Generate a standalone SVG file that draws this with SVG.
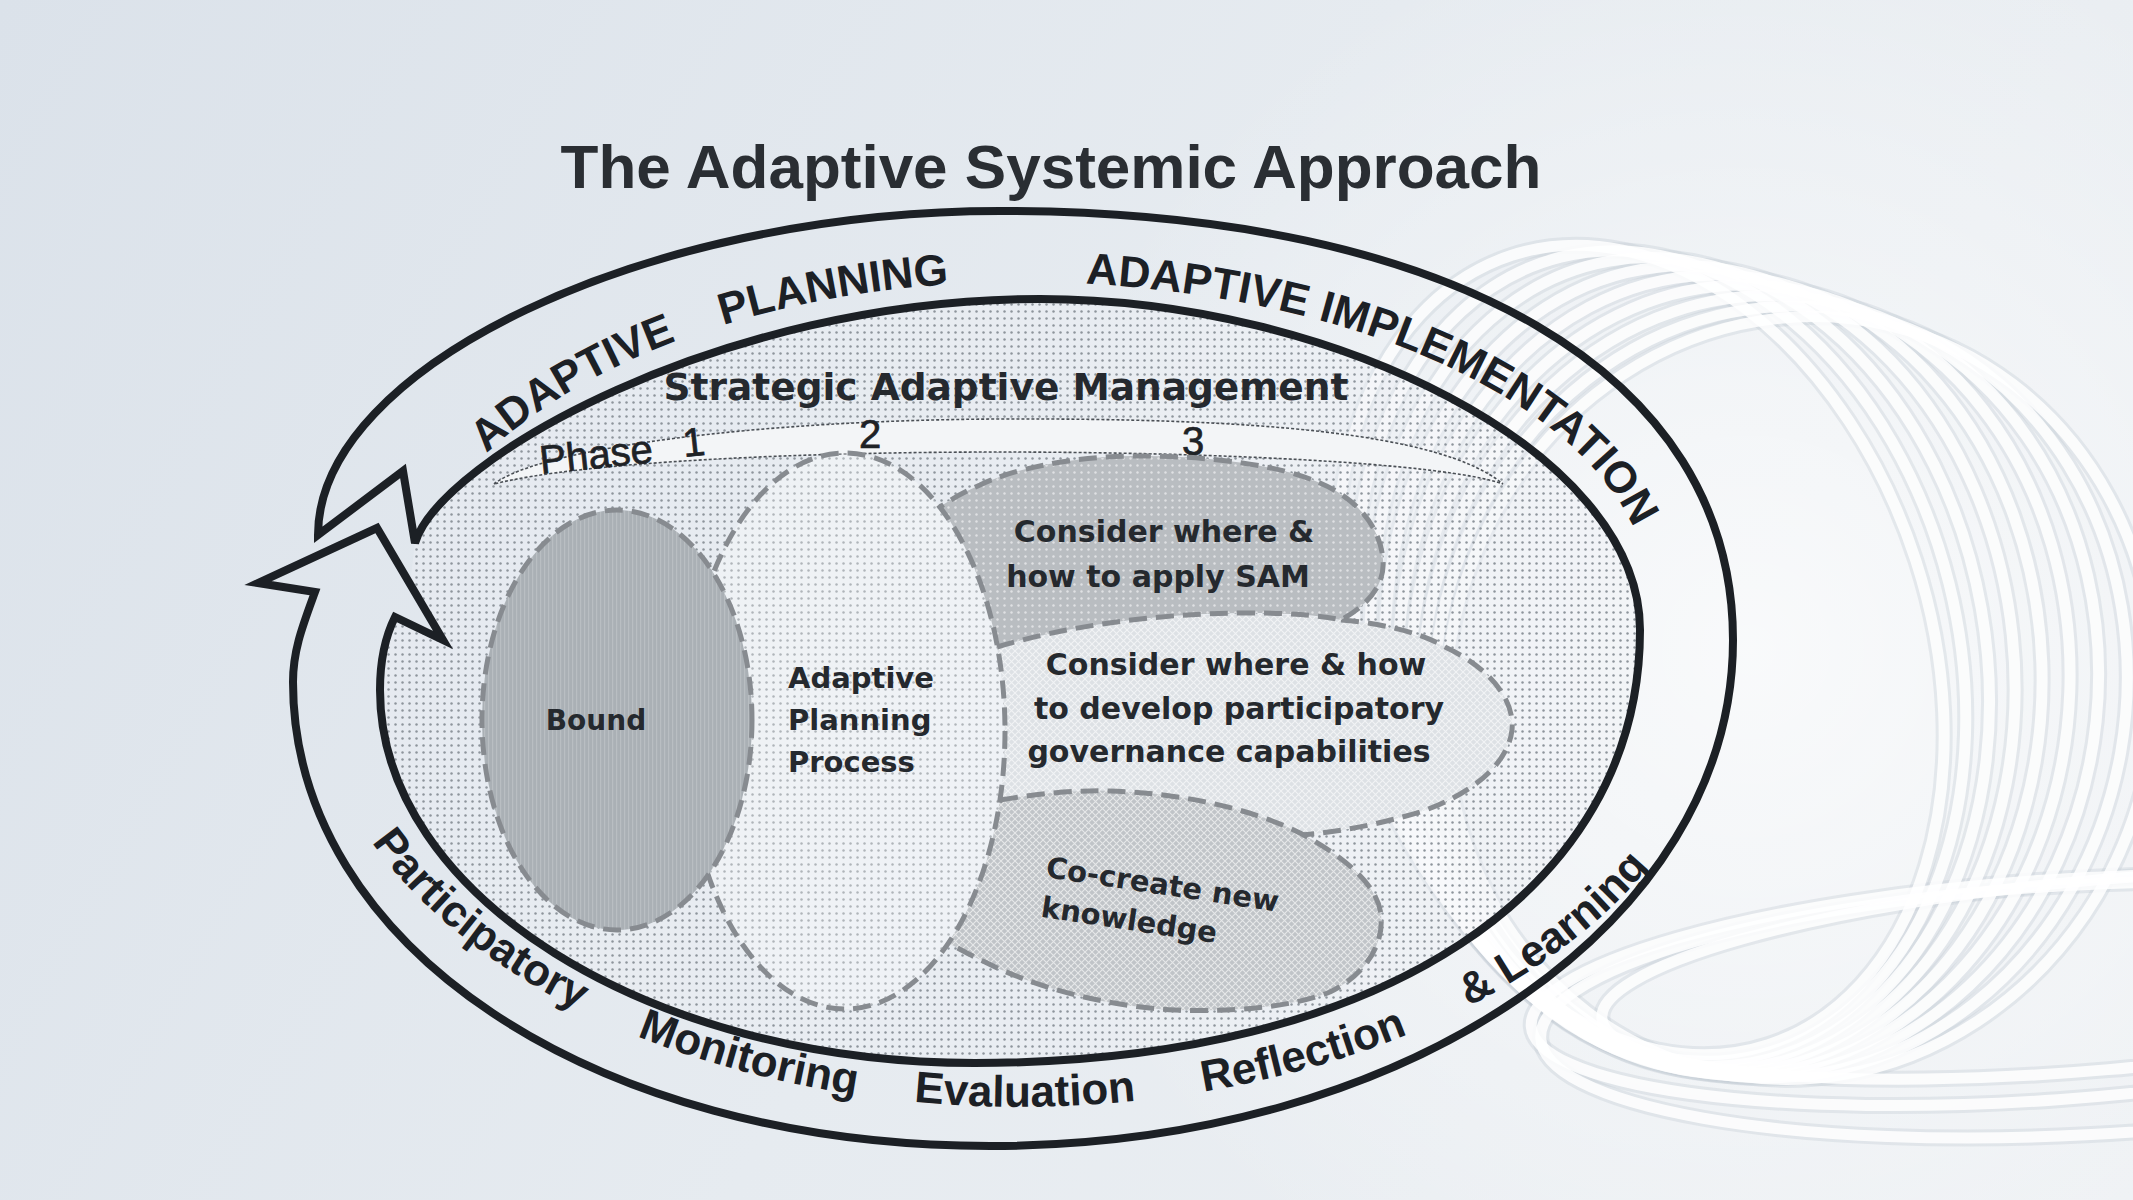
<svg xmlns="http://www.w3.org/2000/svg" width="2133" height="1200" viewBox="0 0 2133 1200">
<defs>
  <linearGradient id="bg" x1="0" y1="0" x2="2133" y2="1200" gradientUnits="userSpaceOnUse">
    <stop offset="0" stop-color="#dbe2ea"/>
    <stop offset="0.5" stop-color="#e6ebf0"/>
    <stop offset="1" stop-color="#eef1f4"/>
  </linearGradient>
  <radialGradient id="glow" cx="1750" cy="650" r="750" gradientUnits="userSpaceOnUse">
    <stop offset="0" stop-color="#ffffff" stop-opacity="0.7"/>
    <stop offset="1" stop-color="#ffffff" stop-opacity="0"/>
  </radialGradient>
  <pattern id="dots" width="7" height="7" patternUnits="userSpaceOnUse"><circle cx="3.5" cy="3.5" r="1.25" fill="#8e959c"/></pattern>
  <pattern id="wdots" width="7" height="7" patternUnits="userSpaceOnUse"><circle cx="3.5" cy="3.5" r="1.2" fill="#ffffff" fill-opacity="0.55"/></pattern>
  <pattern id="hatch" width="7" height="7" patternUnits="userSpaceOnUse"><path d="M0,0 L7,7 M7,0 L0,7" stroke="#ffffff" stroke-width="1.1" stroke-opacity="0.6"/></pattern>
  <pattern id="vlines" width="4" height="4" patternUnits="userSpaceOnUse"><rect width="1.2" height="4" fill="#ffffff" fill-opacity="0.18"/></pattern>
  <path id="topArc" d="M 395,640 A 625,358 0 0 1 1020,282 A 630,318 0 0 1 1650,600"/>
  <path id="botArc" d="M 310,660 A 710,447 0 0 0 1730,660"/>
  <path id="innerShape" d="M 415,543 C 440,460 720,299 1040,299 C 1330,299 1640,450 1640,630 C 1640,890 1383,1063 975,1063 C 648,1063 380,895 380,690 C 380,660 386,635 395,617 L 443,640 L 410,584 Z"/>
  <g id="ringset">
    <ellipse cx="1640" cy="650" rx="290" ry="415" transform="rotate(-18 1640 650)"/>
    <ellipse cx="1660" cy="656" rx="298" ry="411" transform="rotate(-14 1660 656)"/>
    <ellipse cx="1680" cy="662" rx="306" ry="407" transform="rotate(-10 1680 662)"/>
    <ellipse cx="1700" cy="668" rx="314" ry="403" transform="rotate(-6 1700 668)"/>
    <ellipse cx="1720" cy="674" rx="322" ry="399" transform="rotate(-2 1720 674)"/>
    <ellipse cx="1740" cy="680" rx="330" ry="395" transform="rotate(2 1740 680)"/>
    <ellipse cx="1760" cy="686" rx="338" ry="391" transform="rotate(6 1760 686)"/>
    <ellipse cx="1780" cy="692" rx="346" ry="387" transform="rotate(10 1780 692)"/>
    <ellipse cx="1800" cy="698" rx="354" ry="383" transform="rotate(14 1800 698)"/>
    <ellipse cx="2050" cy="990" rx="520" ry="110" transform="rotate(-4 2050 990)"/>
    <ellipse cx="2080" cy="1010" rx="540" ry="125" transform="rotate(-3 2080 1010)"/>
    <ellipse cx="2100" cy="975" rx="500" ry="95" transform="rotate(-5 2100 975)"/>
  </g>
</defs>
<style>
  .dash { fill:none; stroke:#878b90; stroke-width:5; stroke-dasharray:18 9; }
  .band { fill:none; stroke:#1c2025; stroke-width:8; stroke-linejoin:miter; stroke-miterlimit:4; }
  .bt { font-family:"Liberation Sans", Arial, sans-serif; font-weight:bold; font-size:44px; fill:#1c2025; }
  .ct { font-family:"Comic Sans MS", "DejaVu Sans", sans-serif; font-weight:bold; fill:#25292e; }
  .ph { font-family:"Liberation Sans", Arial, sans-serif; font-size:40px; fill:#1e2226; stroke:#1e2226; stroke-width:0.7; }
  .ringShadow { fill:none; stroke:#c3ccd5; stroke-width:17; stroke-opacity:0.35; }
  .ringWhite { fill:none; stroke:#ffffff; stroke-width:11; stroke-opacity:0.85; }
</style>

<rect width="2133" height="1200" fill="url(#bg)"/>
<rect width="2133" height="1200" fill="url(#glow)"/>
<g id="rings">
  <use href="#ringset" class="ringShadow"/>
  <use href="#ringset" class="ringWhite"/>
</g>

<g id="title">
  <text x="1051" y="188" text-anchor="middle" font-family="'Liberation Sans', Arial, sans-serif" font-weight="bold" font-size="62" fill="#2a2e33">The Adaptive Systemic Approach</text>
</g>

<g id="sam-frame">
  <use href="#innerShape" fill="#eef1f4" fill-opacity="0.4"/>
  <use href="#innerShape" fill="url(#dots)"/>
  <text x="1006" y="400" text-anchor="middle" class="ct" font-size="37.5">Strategic Adaptive Management</text>
</g>

<g id="phase-bar">
  <path d="M 494,484 C 540,448 760,420 1000,419 C 1250,418 1440,432 1503,484 C 1440,462 1200,452 1000,452 C 800,452 580,462 494,484 Z" fill="#f3f5f7" stroke="#4a4f55" stroke-width="1.6" stroke-dasharray="3 2"/>
  <text class="ph" transform="translate(541,474) rotate(-6)">Phase</text>
  <text class="ph" transform="translate(684,457) rotate(-6)">1</text>
  <text class="ph" x="859" y="448">2</text>
  <text class="ph" x="1182" y="455">3</text>
</g>

<g id="node-app">
  <ellipse cx="845" cy="731" rx="160" ry="278" fill="#ffffff" fill-opacity="0.3"/>
</g>

<g id="node-governance">
  <path d="M 997,647 C 1060,628 1150,614 1250,614 C 1330,614 1400,625 1445,647 C 1490,668 1515,700 1512,730 C 1508,765 1470,795 1420,812 C 1380,824 1340,832 1300,835 L 1210,803 L 1107,792 L 1000,800 A 160,278 0 0 0 997,647 Z" fill="#dde1e5"/>
  <path d="M 997,647 C 1060,628 1150,614 1250,614 C 1330,614 1400,625 1445,647 C 1490,668 1515,700 1512,730 C 1508,765 1470,795 1420,812 C 1380,824 1340,832 1300,835 L 1210,803 L 1107,792 L 1000,800 A 160,278 0 0 0 997,647 Z" fill="url(#hatch)"/>
  <path class="dash" d="M 1341,620 C 1390,624 1425,635 1445,647 C 1490,668 1515,700 1512,730 C 1508,765 1470,795 1420,812 C 1380,824 1340,832 1300,835"/>
  <text class="ct" font-size="30" text-anchor="middle" x="1236" y="675">Consider where &amp; how</text>
  <text class="ct" font-size="30" text-anchor="middle" x="1239" y="719">to develop participatory</text>
  <text class="ct" font-size="30" text-anchor="middle" x="1229" y="762">governance capabilities</text>
</g>

<g id="node-apply-sam">
  <path d="M 940,507 A 160,278 0 0 1 997,647 C 1060,628 1150,613 1250,613 C 1300,613 1330,617 1341,620 C 1368,605 1385,585 1383,560 C 1381,530 1360,500 1320,483 C 1280,465 1210,456 1140,456 C 1070,456 1010,470 980,485 C 962,493 950,500 940,507 Z" fill="#b9bdc1"/>
  <path d="M 940,507 A 160,278 0 0 1 997,647 C 1060,628 1150,613 1250,613 C 1300,613 1330,617 1341,620 C 1368,605 1385,585 1383,560 C 1381,530 1360,500 1320,483 C 1280,465 1210,456 1140,456 C 1070,456 1010,470 980,485 C 962,493 950,500 940,507 Z" fill="url(#wdots)"/>
  <path class="dash" d="M 997,647 C 1060,628 1150,613 1250,613 C 1300,613 1330,617 1341,620 C 1368,605 1385,585 1383,560 C 1381,530 1360,500 1320,483 C 1280,465 1210,456 1140,456 C 1070,456 1010,470 980,485 C 962,493 950,500 940,507"/>
  <text class="ct" font-size="30" text-anchor="middle" x="1164" y="542">Consider where &amp;</text>
  <text class="ct" font-size="30" text-anchor="middle" x="1158" y="587">how to apply SAM</text>
</g>

<g id="node-knowledge">
  <path d="M 1000,800 C 1040,793 1080,790 1110,791 C 1180,793 1250,808 1300,833 C 1345,857 1378,885 1381,915 C 1384,945 1365,975 1330,992 C 1290,1008 1230,1012 1175,1010 C 1100,1006 1030,985 985,962 C 970,955 958,948 948,943 A 160,278 0 0 0 1000,800 Z" fill="#c0c4c8"/>
  <path d="M 1000,800 C 1040,793 1080,790 1110,791 C 1180,793 1250,808 1300,833 C 1345,857 1378,885 1381,915 C 1384,945 1365,975 1330,992 C 1290,1008 1230,1012 1175,1010 C 1100,1006 1030,985 985,962 C 970,955 958,948 948,943 A 160,278 0 0 0 1000,800 Z" fill="url(#hatch)"/>
  <path class="dash" d="M 1000,800 C 1040,793 1080,790 1110,791 C 1180,793 1250,808 1300,833 C 1345,857 1378,885 1381,915 C 1384,945 1365,975 1330,992 C 1290,1008 1230,1012 1175,1010 C 1100,1006 1030,985 985,962 C 970,955 958,948 948,943"/>
  <g transform="translate(1045,877) rotate(8.5)">
    <text class="ct" font-size="29" x="0" y="0">Co-create new</text>
    <text class="ct" font-size="29" x="1" y="40">knowledge</text>
  </g>
</g>

<g id="node-app-outline">
  <ellipse class="dash" cx="845" cy="731" rx="160" ry="278"/>
  <text class="ct" font-size="29" x="788" y="688">Adaptive</text>
  <text class="ct" font-size="29" x="788" y="730">Planning</text>
  <text class="ct" font-size="29" x="788" y="772">Process</text>
</g>

<g id="node-bound">
  <ellipse cx="617" cy="720" rx="135" ry="210" fill="#aab0b5"/>
  <ellipse cx="617" cy="720" rx="135" ry="210" fill="url(#vlines)"/>
  <ellipse class="dash" cx="617" cy="720" rx="135" ry="210"/>
  <text class="ct" font-size="28" text-anchor="middle" x="596" y="730">Bound</text>
</g>

<g id="connectors">
  <path class="band" d="M 315,592 C 303,625 293,650 293,682 C 293,946 593,1146 990,1146 C 1406,1146 1733,923 1733,640 C 1733,374 1454,211 1000,211 C 645,211 318,367 318,535 L 403,471 L 415,543 C 440,460 720,299 1040,299 C 1330,299 1640,450 1640,630 C 1640,890 1383,1063 975,1063 C 648,1063 380,895 380,690 C 380,660 386,635 395,617 L 443,640 L 377,528 L 258,583 Z"/>
  <text class="bt"><textPath href="#topArc" startOffset="325" text-anchor="middle">ADAPTIVE</textPath></text>
  <text class="bt"><textPath href="#topArc" startOffset="600" text-anchor="middle">PLANNING</textPath></text>
  <text class="bt"><textPath href="#topArc" startOffset="852">ADAPTIVE</textPath></text>
  <text class="bt"><textPath href="#topArc" startOffset="1087">IMPLEMENTATION</textPath></text>
  <text class="bt"><textPath href="#botArc" startOffset="330" text-anchor="middle">Participatory</textPath></text>
  <text class="bt"><textPath href="#botArc" startOffset="642" text-anchor="middle">Monitoring</textPath></text>
  <text class="bt"><textPath href="#botArc" startOffset="925" text-anchor="middle">Evaluation</textPath></text>
  <text class="bt"><textPath href="#botArc" startOffset="1211" text-anchor="middle">Reflection</textPath></text>
  <text class="bt"><textPath href="#botArc" startOffset="1499" text-anchor="middle">&amp; Learning</textPath></text>
</g>
</svg>
